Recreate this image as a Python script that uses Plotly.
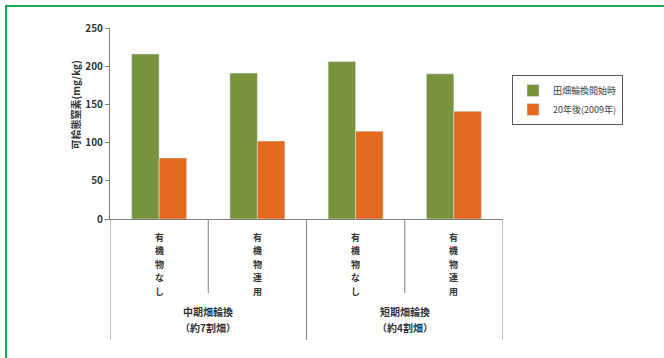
import plotly.graph_objects as go

categories = ["有機物なし", "有機物連用", "有機物なし ", "有機物連用 "]
cat_labels = ["有機物なし", "有機物連用", "有機物なし", "有機物連用"]
groups = [["中期畑輪換", "（約7割畑）"], ["短期畑輪換", "（約4割畑）"]]
series_start = [216, 191, 206, 190]
series_20y = [80, 102, 115, 141]
series_names = ["田畑輪換開始時", "20年後(2009年)"]
y_ticks = [0, 50, 100, 150, 200, 250]

FONT = "Noto Sans CJK JP"
W, H = 664, 358
L, R, T, B = 110, 161, 28, 139
pw, ph = W - L - R, H - T - B

def px_x(p):
    return (p - L) / pw

def px_y(p):
    return (H - B - p) / ph

fig = go.Figure()
xs = list(range(len(categories)))
fig.add_trace(go.Bar(x=xs, y=series_start, name=series_names[0], marker_color="#77933C"))
fig.add_trace(go.Bar(x=xs, y=series_20y, name=series_names[1], marker_color="#E2691E"))

shapes = []
for i, b in enumerate([-0.5, 0.5, 1.5, 2.5, 3.5]):
    outer = i % 2 == 0
    shapes.append(dict(type="line", xref="x", yref="paper", x0=b, x1=b,
                       y0=0, y1=px_y(340 if outer else 293),
                       line=dict(color="#7F7F7F", width=1)))
shapes.append(dict(type="rect", xref="paper", yref="paper",
                   x0=px_x(6), x1=px_x(700), y0=px_y(6), y1=px_y(400),
                   line=dict(color="#1BA94C", width=2)))

annotations = []
for i, lab in enumerate(cat_labels):
    for k, ch in enumerate(lab):
        annotations.append(dict(x=i, y=px_y(237 + 13.6 * k), xref="x", yref="paper",
                                text="<b>" + ch + "</b>", showarrow=False,
                                yanchor="middle", xanchor="center", borderpad=0,
                                font=dict(family=FONT, size=9, color="#333333")))
for j, g in enumerate(groups):
    for k, line in enumerate(g):
        annotations.append(dict(x=0.5 + 2 * j, y=px_y(311 + 16 * k), xref="x", yref="paper",
                                text="<b>" + line + "</b>", showarrow=False,
                                yanchor="middle", xanchor="center", borderpad=0,
                                font=dict(family=FONT, size=10, color="#333333")))
annotations.append(dict(x=px_x(65), y=px_y(105), xref="paper", yref="paper",
                        text="<b>可給態窒素(mg/kg)</b>", textangle=-90, showarrow=False,
                        font=dict(family=FONT, size=10, color="#333333")))

fig.update_layout(
    width=W, height=H,
    margin=dict(l=L, r=R, t=T, b=B),
    paper_bgcolor="white", plot_bgcolor="white",
    barmode="group", bargap=0.44, bargroupgap=0,
    font=dict(family=FONT, size=10, color="#333333"),
    xaxis=dict(range=[-0.5, 3.5], showticklabels=False, ticks="",
               showline=True, linecolor="#7F7F7F", linewidth=1, showgrid=False,
               zeroline=False, fixedrange=True),
    yaxis=dict(range=[0, 250], tickvals=y_ticks, ticktext=["<b>%d</b>" % v for v in y_ticks],
               showline=True, linecolor="#7F7F7F",
               linewidth=1, ticks="outside", ticklen=4, tickcolor="#7F7F7F",
               showgrid=False, zeroline=False,
               tickfont=dict(family=FONT, size=10, color="#333333")),
    legend=dict(x=px_x(512), y=px_y(75), xanchor="left", yanchor="top",
                bordercolor="#595959", borderwidth=1, bgcolor="white",
                font=dict(family=FONT, size=9, color="#404040"),
                itemwidth=30, tracegroupgap=0),
    shapes=shapes, annotations=annotations, showlegend=True,
)
fig.write_html("out.html")
